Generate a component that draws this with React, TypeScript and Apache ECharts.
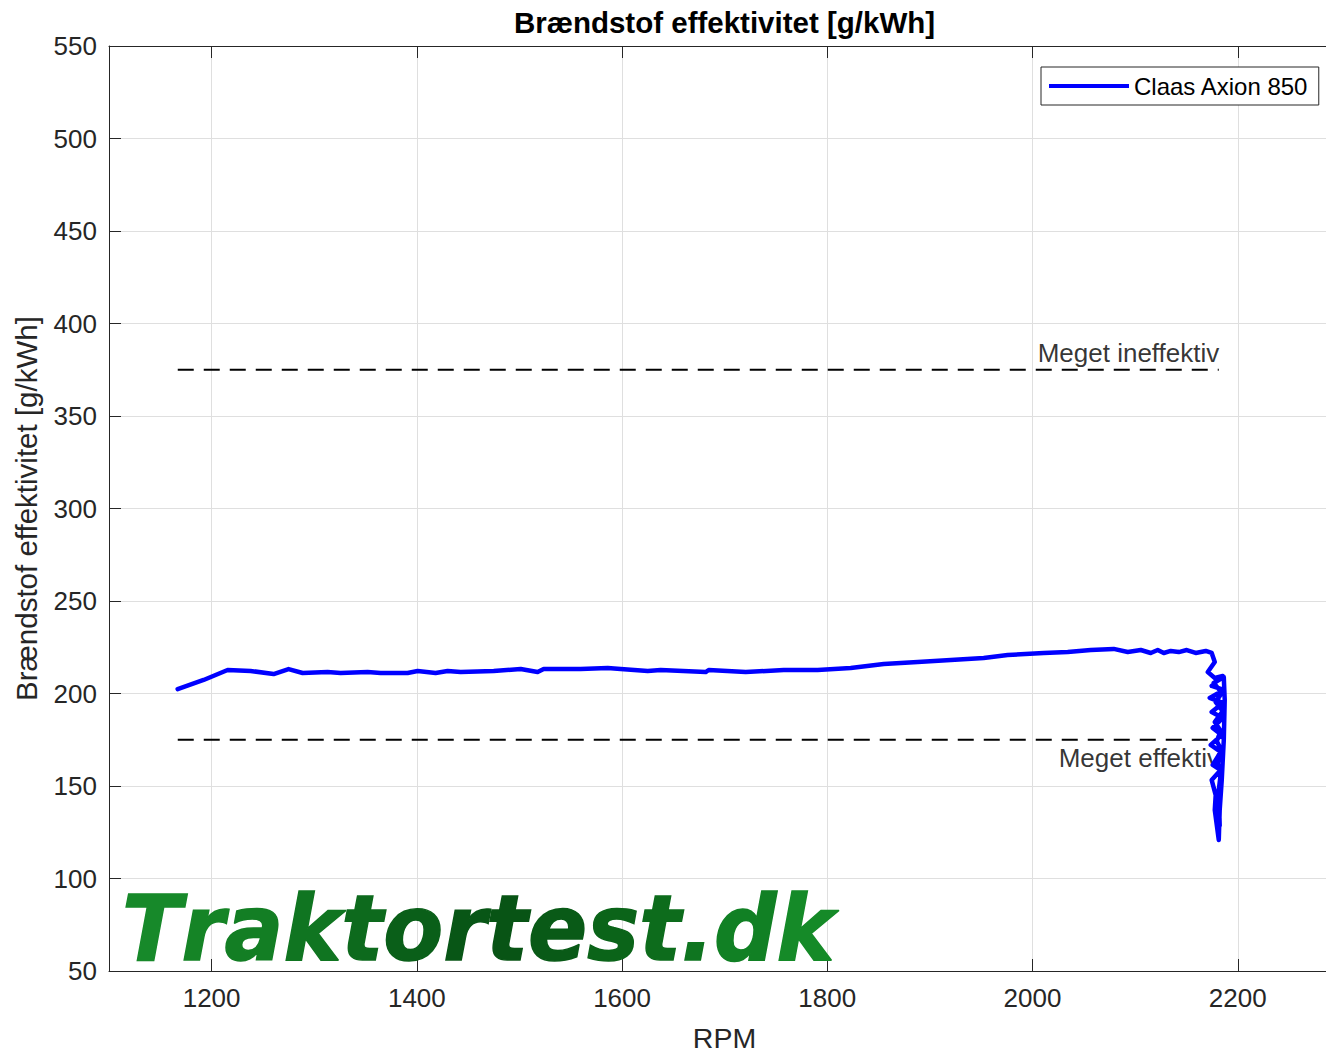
import React, { useEffect, useRef } from "react";
import * as echarts from "echarts";

// ---- Data ----
const seriesName = "Claas Axion 850";
const rpm = [
  1166.9, 1192.2, 1215.6, 1238.0, 1260.4, 1275.0, 1288.7, 1313.0, 1325.7, 1352.0,
  1364.7, 1391.0, 1400.8, 1418.3, 1430.0, 1442.7, 1474.9, 1501.2, 1517.7, 1523.6,
  1559.6, 1586.0, 1598.6, 1625.0, 1637.6, 1681.5, 1684.4, 1720.5, 1757.5, 1790.6,
  1822.8, 1855.0, 1888.1, 1920.3, 1952.4, 1975.8, 2010.9, 2034.3, 2056.7, 2079.1,
  2092.8, 2105.5, 2115.2, 2122.0, 2127.9, 2134.7, 2142.5, 2150.3, 2159.0, 2168.8,
  2174.6, 2177.6, 2170.8, 2177.6, 2185.4, 2174.6, 2186.4, 2172.7, 2185.4, 2174.6,
  2185.4, 2175.6, 2184.4, 2173.7, 2183.4, 2175.6, 2183.4, 2174.6, 2178.5, 2177.6,
  2181.5, 2182.4, 2184.4, 2186.4, 2187.3, 2186.4,
];
const efficiency = [
  202.4, 207.3, 212.7, 212.2, 210.5, 213.2, 211.1, 211.6, 211.1, 211.6,
  211.1, 211.1, 212.2, 211.1, 212.2, 211.6, 212.2, 213.2, 211.6, 213.2,
  213.2, 213.8, 213.2, 212.2, 212.7, 211.6, 212.7, 211.6, 212.7, 212.7,
  213.8, 216.0, 217.0, 218.1, 219.2, 220.8, 221.9, 222.4, 223.5, 224.1,
  222.4, 223.5, 221.9, 223.5, 221.9, 223.0, 222.4, 223.5, 221.9, 223.0,
  221.9, 217.0, 211.6, 208.4, 209.5, 204.1, 201.9, 197.6, 194.9, 190.0,
  186.8, 181.4, 177.6, 172.2, 168.4, 161.4, 158.6, 153.2, 145.1, 137.0,
  120.8, 137.0, 153.2, 174.9, 196.5, 208.9,
];
// extra back-and-forth pass over the end segment (dense scribble near full throttle)
const scribbleRpm = [2186.4, 2176.6, 2184.4, 2178.5, 2185.4, 2177.6, 2183.4, 2179.5, 2184.4, 2180.5, 2183.4, 2181.5, 2182.4];
const scribbleEff = [208.9, 205.7, 200.3, 195.4, 190.5, 184.6, 179.7, 174.3, 168.9, 162.4, 156.5, 147.8, 128.6];
const refRpm = [1167, 2181.5];
const ineffectiveLevel = [375, 375];
const effectiveLevel = [175, 175];
const annotationTexts = ["Meget ineffektiv", "Meget effektiv"];
const annotationRpm = [2005, 2025.5];
const annotationValue = [384, 165];
const xTicks = [1200, 1400, 1600, 1800, 2000, 2200];
const xRange = [1100, 2286];
const yRange = [50, 550];
const yStep = 50;
const titleText = "Brændstof effektivitet [g/kWh]";
const yName = "Brændstof effektivitet [g/kWh]";
const xName = "RPM";
const logoText = "Traktortest.dk";
const logoColors = [
  "#17892a", "#158426", "#137e24", "#107521", "#0d6a1d", "#0a5f19", "#085616",
  "#085415", "#095a17", "#0b6419", "#0d6c1c", "#0f7520", "#118024", "#158a28",
];

const FONT = "'Liberation Sans', Arial, Helvetica, sans-serif";
const LOGO_FONT = "'DejaVu Sans', sans-serif";
const LOGO_SIZE = 90;
const AX = "#262626";

export default function App() {
  const ref = useRef<HTMLDivElement>(null);
  useEffect(() => {
    if (!ref.current) return;
    const chart = echarts.init(ref.current, undefined, { renderer: "svg" });
    const allRpm = rpm.concat(scribbleRpm);
    const allEff = efficiency.concat(scribbleEff);
    const mainData = allRpm.map((x, i) => [x, allEff[i]]);
    const hiData = refRpm.map((x, i) => [x, ineffectiveLevel[i]]);
    const loData = refRpm.map((x, i) => [x, effectiveLevel[i]]);
    const annData = annotationTexts.map((t, i) => ({ value: [annotationRpm[i], annotationValue[i]], name: t }));

    const logoChars = logoText.split("");
    const logoRich: Record<string, any> = {};
    logoChars.forEach((_, i) => {
      logoRich["c" + i] = {
        fill: logoColors[i % logoColors.length],
        fontSize: LOGO_SIZE,
        fontWeight: "bold",
        fontStyle: "italic",
        fontFamily: LOGO_FONT,
        stroke: logoColors[i % logoColors.length],
        lineWidth: 1.5,
      };
    });
    const logoRichText = logoChars.map((c, i) => "{c" + i + "|" + c + "}").join("");

    const dashed = {
      type: "line",
      showSymbol: false,
      symbol: "none",
      silent: true,
      z: 2,
      lineStyle: { color: "#000", width: 2, type: [16, 10] },
    };

    chart.setOption({
      animation: false,
      backgroundColor: "#fff",
      textStyle: { fontFamily: FONT },
      grid: { left: 109, top: 46, width: 1217, height: 925, containLabel: false, outerBoundsMode: "none" },
      legend: {
        left: 1041,
        top: 67,
        data: [{ name: seriesName, icon: "rect" }],
        itemWidth: 80,
        itemHeight: 4,
        padding: [7, 10, 7, 8],
        borderColor: AX,
        borderWidth: 1,
        backgroundColor: "#fff",
        textStyle: { fontSize: 24, color: "#000", fontFamily: FONT },
        z: 10,
      },
      xAxis: [
        {
          type: "value",
          min: xRange[0],
          max: xRange[1],
          axisLine: { show: true, onZero: false, lineStyle: { color: AX, width: 1 } },
          axisTick: { show: true, inside: true, length: 12, customValues: xTicks, lineStyle: { color: AX } },
          axisLabel: {
            customValues: xTicks,
            fontSize: 26,
            color: AX,
            margin: 14,
            fontFamily: FONT,
            formatter: (v: number) => String(v),
          },
          splitLine: { show: true, lineStyle: { color: "#dfdfdf", width: 1 } },
        },
        {
          type: "value",
          position: "top",
          min: xRange[0],
          max: xRange[1],
          axisLine: { show: true, onZero: false, lineStyle: { color: AX, width: 1 } },
          axisTick: { show: true, inside: true, length: 12, customValues: xTicks, lineStyle: { color: AX } },
          axisLabel: { show: false },
          splitLine: { show: false },
        },
      ],
      yAxis: {
        type: "value",
        min: yRange[0],
        max: yRange[1],
        interval: yStep,
        name: yName,
        nameLocation: "middle",
        nameGap: 68,
        nameTextStyle: { fontSize: 29.5, color: AX, fontFamily: FONT },
        axisLine: { show: true, onZero: false, lineStyle: { color: AX, width: 1 } },
        axisTick: { show: true, inside: true, length: 12, lineStyle: { color: AX } },
        axisLabel: { fontSize: 26, color: AX, margin: 12, fontFamily: FONT },
        splitLine: { show: true, lineStyle: { color: "#dfdfdf", width: 1 } },
      },
      series: [
        {
          type: "scatter",
          data: annData,
          symbolSize: 0,
          silent: true,
          z: 1,
          label: {
            show: true,
            position: "right",
            distance: 0,
            formatter: (p: any) => p.name,
            fontSize: 26,
            color: "#000",
            fontFamily: FONT,
          },
        },
        { ...dashed, name: "ineff", data: hiData },
        { ...dashed, name: "eff", data: loData },
        {
          type: "line",
          name: seriesName,
          data: mainData,
          showSymbol: false,
          symbol: "none",
          z: 5,
          color: "#0000ff",
          lineStyle: { color: "#0000ff", width: 4.5, join: "round", cap: "round" },
        },
      ],
      graphic: [
        {
          type: "text",
          x: 724.5,
          y: 22,
          z: 10,
          style: {
            text: titleText,
            align: "center",
            verticalAlign: "middle",
            fontSize: 29.5,
            fontWeight: "bold",
            fontFamily: FONT,
            fill: "#000",
          },
        },
        {
          type: "text",
          x: 724.5,
          y: 1038,
          z: 10,
          style: {
            text: xName,
            align: "center",
            verticalAlign: "middle",
            fontSize: 28.5,
            fontFamily: FONT,
            fill: AX,
          },
        },
        {
          type: "text",
          x: 122,
          y: 929,
          scaleX: 0.97,
          z: 20,
          style: {
            text: logoRichText,
            rich: logoRich,
            align: "left",
            verticalAlign: "middle",
            fontSize: LOGO_SIZE,
            fontWeight: "bold",
            fontStyle: "italic",
            fontFamily: LOGO_FONT,
          },
        },
      ],
    });
    return () => chart.dispose();
  }, []);
  return (
    <div
      ref={ref}
      style={{ position: "absolute", left: 0, top: 0, width: 1326, height: 1056, overflow: "hidden" }}
    />
  );
}
